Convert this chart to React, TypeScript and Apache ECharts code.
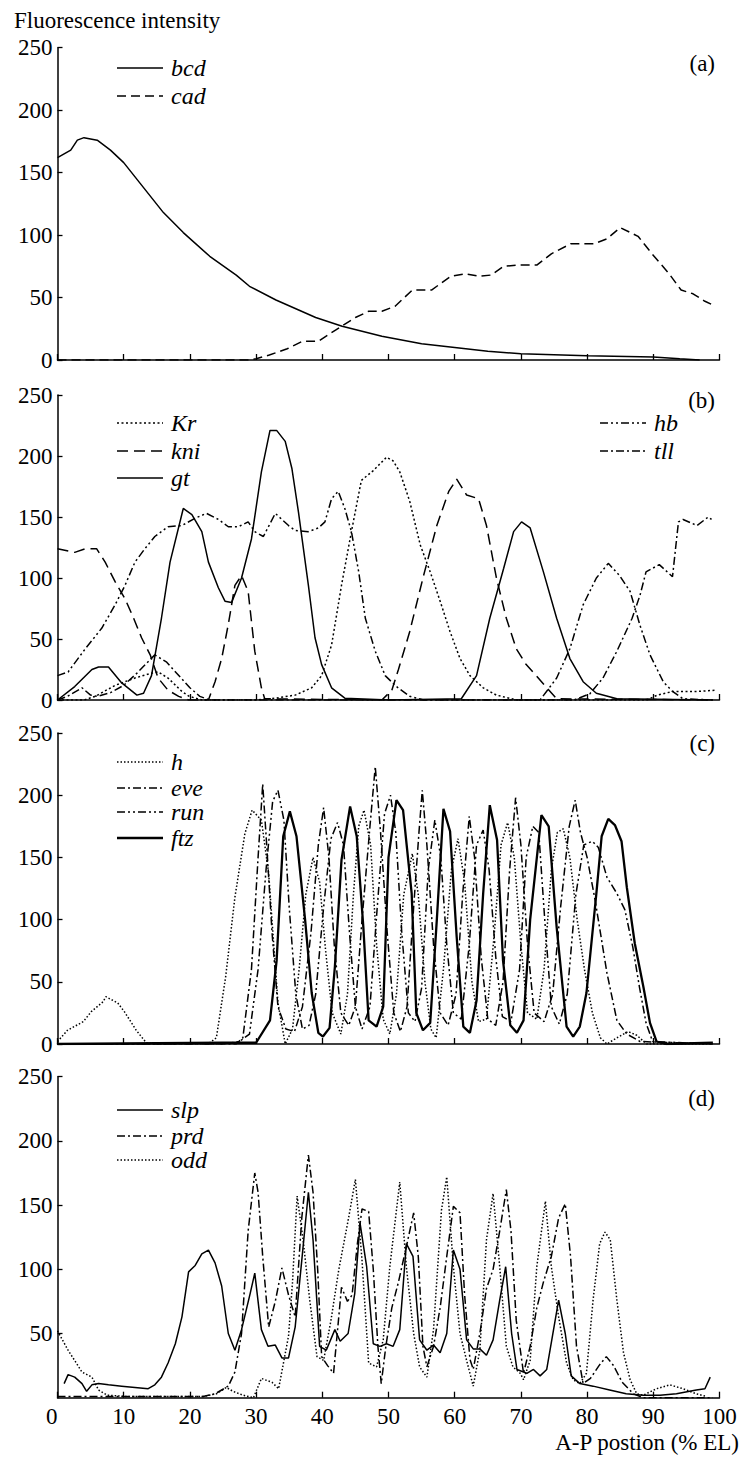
import React, { useEffect, useRef } from "react";
import * as echarts from "echarts";

const FONT = "'Liberation Serif', 'Times New Roman', serif";

// ---- tick labels ----
const xTicks = [0, 10, 20, 30, 40, 50, 60, 70, 80, 90, 100];
const yTicks = [0, 50, 100, 150, 200, 250];

// ---- panel (a) ----
const bcd = [[0,162],[1,165],[2,168],[3,176],[4,178],[6,176],[8,168],[10,158],[13,138],[16,118],[19,102],[23,83],[27,68],[29,59],[33,48],[39,34],[43,27],[49,19],[55,13],[60,10],[65,7],[70,5],[80,3.5],[90,2.5],[94,1],[97,0]];
const cad = [[0,0],[29,0],[30,1],[32,4],[34.7,9],[37,15],[39.4,15],[42,24],[45,34],[47,39],[49,39],[51,43],[53.6,56],[56.5,56],[59.4,67],[61.6,69],[63.7,67],[65.5,68],[67.4,75],[69.5,76],[72.4,76],[74.6,85],[77.5,93],[81,93],[83,97],[85,106],[87.7,99],[89.8,85],[92.4,69],[94.2,56],[96,53],[97.8,47],[99,44]];

// ---- panel (b) ----
const kr = [[0,0],[4,0],[5.7,3],[8.7,12],[11.7,18],[14.2,22],[15.2,23],[16.7,18],[18.8,7],[19.9,3],[21.8,0],[30,0],[32.9,1.5],[35.9,4],[38.4,10],[39.9,20],[41.4,45],[42.9,94],[44.4,138],[45.9,180],[47.7,188],[49.7,199],[50.7,196],[51.7,187],[53.2,163],[54.8,127],[56.3,105],[57.8,81],[59.3,56],[60.8,34],[62.3,20],[64.3,10],[66.3,4],[69.4,0],[89,0],[90.6,4],[92.9,7],[96.6,7],[99.3,8]];
const kni = [[0,124],[2.6,121],[4.2,124],[5.9,124],[7.2,113],[8.7,97],[10.2,83],[11.5,67],[12.7,51],[14,37],[15.2,18],[16.7,8],[18.3,3],[19.8,0],[22.8,0],[23.8,15],[24.8,34],[25.8,62],[26.8,94],[27.8,102],[28.8,89],[29.8,40],[30.8,10],[31.3,1],[49,0],[50.5,8],[51.5,25],[53.2,56],[55.3,102],[57.3,143],[59.1,171],[60.3,181],[61.8,168],[63.6,165],[64.8,143],[66.3,100],[67.8,67],[69.3,42],[70.8,29],[72.3,20],[73.9,10],[75.4,1],[99,0]];
const gt = [[0,0],[2.6,11],[5.2,25],[6.2,27],[7.7,27],[9.7,14],[12,4],[13,5.5],[14.2,20],[15.7,67],[17,113],[19,157],[20.3,152],[21.8,138],[22.8,113],[24.3,92],[25.3,81],[26.3,80],[27.8,100],[29.3,132],[30.8,187],[32.1,221],[33.1,221],[34.4,212],[35.4,190],[36.4,154],[37.9,94],[38.9,51],[39.9,29],[41.4,10],[43.4,1.5],[50,0],[61,1],[63.3,20],[65.3,67],[67.4,108],[68.9,138],[70.1,146],[71.4,141],[73.4,105],[75.4,67],[77.4,34],[79.4,15],[81.4,5.5],[84.5,1],[99,0]];
const hb = [[0,20],[1.6,23],[4.2,42],[6.7,59],[8.7,78],[10.2,94],[11.7,113],[13.2,124],[14.7,134],[16.7,142],[18.8,143],[20.8,149],[22.5,153],[24.3,148],[25.8,142],[27.3,142],[28.8,146],[29.8,138],[31.1,134],[32.9,153],[34.9,143],[35.9,139],[37.9,138],[39.4,141],[40.4,146],[41.4,165],[42.4,171],[43.4,157],[44.4,138],[45.5,105],[46.5,67],[48,40],[49.5,20],[51.2,11],[53.2,3],[55.3,0],[72.9,0],[75.4,18],[77.4,42],[79.4,78],[81.4,100],[83.2,112],[84.9,102],[86.5,89],[88,61],[89.5,37],[91.5,15],[92.9,7],[94.5,1],[99,0]];
const tll = [[0,0],[1.5,3],[3.7,10],[5,4],[6,3],[8,6],[10,12],[12,22],[14.7,37],[16.5,31],[18,22],[20,10],[21.5,3],[23,0],[78,0],[80.4,5],[82.4,18],[84.5,40],[86.8,67],[88,86],[88.9,105],[90.9,111],[92.9,101],[93.8,146],[94.5,148],[96.6,143],[98.3,150],[98.8,148]];

// ---- panel (c) ----
const hGene = [[0,2],[1.5,11],[3.9,18],[5.1,26],[6.9,34],[7.3,38],[9.1,33],[10.1,26],[11.9,11],[13.4,1],[15,0],[23,1],[24,5],[25.4,54],[26.8,118],[28.3,169],[29.4,188],[30.8,180],[31.9,137],[33.3,33],[34.4,0],[35.5,12],[36.5,60],[37.5,120],[38.6,150],[39.6,130],[40.5,75],[41.5,25],[42.8,8],[43.8,40],[44.7,120],[45.5,175],[46.3,188],[47.3,160],[48.2,80],[49.2,20],[50.2,8],[51.2,40],[52.3,120],[53.6,153],[54.5,120],[55.5,50],[56.4,12],[57.2,5],[58.3,60],[59.5,140],[60.5,165],[61.5,130],[62.6,50],[63.6,18],[64.8,20],[66,90],[67,160],[68,178],[69,150],[70,80],[71,25],[72.4,20],[73.5,60],[74.6,140],[75.5,170],[76.4,173],[77.4,150],[78.5,100],[79.6,60],[80.8,25],[82,5],[83,0],[84.5,5],[86.2,10],[87.5,7],[89,0],[99,0]];
const eve = [[0,0],[27,0],[28,5],[29.3,60],[30.3,150],[31,209],[31.6,160],[32.4,90],[33.3,30],[34.5,12],[35.8,10],[37,30],[38.3,90],[39.4,160],[40.2,190],[41,150],[41.8,80],[42.8,25],[44,15],[45,30],[46,100],[47.2,175],[48,223],[48.8,170],[49.8,90],[50.8,25],[51.8,10],[52.8,30],[53.8,110],[54.6,170],[55.1,204],[55.8,160],[56.8,80],[57.8,25],[59,15],[60.2,40],[61.2,120],[62.2,183],[63,150],[64,70],[65,20],[66.2,15],[67.3,50],[68.3,140],[69.2,198],[70,160],[71,80],[72,25],[73.5,18],[74.8,40],[76,110],[77.3,175],[78.2,196],[79,170],[80,150],[81.2,116],[83,57],[84.5,19],[86,8],[88,2],[99,0]];
const run = [[0,0],[25,0],[27.5,2],[29,8],[30.3,60],[31.5,140],[32.5,195],[33.3,204],[34.2,180],[35,110],[36,40],[37,12],[38,15],[39,40],[40.2,110],[41.3,165],[42.3,178],[43.2,160],[44.1,90],[45,30],[46,12],[47.2,30],[48.3,110],[49.4,185],[50.3,200],[51.1,170],[52,90],[53,25],[54,18],[55,45],[56,140],[57,180],[57.9,150],[58.8,80],[59.8,25],[61,20],[62.2,80],[63.3,160],[64.3,172],[65.2,140],[66.2,70],[67.2,22],[68.5,18],[69.8,60],[70.8,150],[71.8,175],[72.7,170],[73.6,100],[74.6,30],[75.8,16],[77,40],[78.3,120],[79.5,160],[80.8,163],[81.7,158],[83,134],[84.5,121],[85.7,108],[86.9,78],[87.9,46],[88.9,17],[89.9,2],[99,0]];
const ftz = [[0,0],[25,1],[30,1],[32.1,19],[33.1,67],[34.1,167],[35.1,187],[36.1,167],[37.4,100],[38.4,41],[39.4,9],[40.1,6],[41.1,13],[41.9,62],[42.9,148],[44.2,191],[45.2,167],[46.2,94],[47,19],[48.2,14],[49.2,30],[50,150],[51.2,196],[52.2,188],[53.5,121],[54.2,25],[55.2,11],[56.3,17],[57.3,100],[58.3,189],[59.3,171],[60.3,86],[61.3,14],[62.3,9],[63.3,35],[64.3,121],[65.3,192],[66.4,164],[67.3,67],[68.4,15],[69.4,9],[70.4,19],[71.4,100],[73.1,184],[74.2,175],[75.4,94],[76.9,14],[77.9,6],[78.9,14],[79.9,41],[81.4,121],[82.2,167],[83.2,181],[84.2,176],[85.2,163],[86,126],[87.2,81],[88.5,46],[89.5,17],[90.5,2],[91.9,0],[99,1]];

// ---- panel (d) ----
const slp = [[1,11],[1.6,18],[2.6,16],[3.7,11],[4.4,5],[5.2,10],[6.2,11],[7.7,10],[9.7,9],[11.7,8],[13.7,7],[14.7,10],[15.7,16],[16.7,27],[17.8,42],[18.8,63],[19.8,98],[20.8,103],[21.8,112],[22.8,115],[23.8,105],[24.8,87],[25.8,50],[26.8,37],[27.8,53],[29.1,81],[29.8,97],[30.8,53],[31.8,40],[32.9,41],[33.9,31],[34.9,31],[35.9,55],[36.9,107],[37.9,160],[38.6,123],[39.6,40],[40.6,37],[41.9,53],[42.7,44],[43.9,50],[44.9,81],[45.7,136],[46.7,102],[47.7,42],[48.7,40],[49.7,42],[50.7,40],[51.7,53],[52.7,120],[53.7,110],[54.7,45],[55.8,37],[56.8,41],[57.8,35],[58.8,50],[59.8,115],[60.8,100],[61.8,45],[62.8,38],[63.8,38],[64.8,33],[65.8,45],[66.8,76],[67.7,102],[68.6,50],[69.4,22],[70.9,19],[71.9,22],[72.9,17],[73.9,22],[75.7,76],[76.7,50],[77.6,17],[78.9,11],[80.9,9],[83.4,6],[85.9,3],[88.5,2],[91,2],[93.5,3],[96.5,6],[97.8,7],[98.6,16]];
const prd = [[0,1],[22,1],[23.8,3],[25.8,9],[26.8,20],[27.8,50],[28.8,130],[29.8,175],[30.3,160],[31,110],[31.9,55],[32.9,75],[33.9,101],[34.9,80],[35.9,63],[36.9,140],[37.9,189],[38.6,160],[39.3,100],[39.9,32],[40.8,25],[41.7,19],[42.9,86],[43.8,75],[44.5,80],[45.3,120],[46,147],[47,145],[47.7,100],[48.4,40],[48.9,11],[49.6,40],[50.5,70],[51.5,90],[52.8,120],[53.8,144],[54.5,110],[55.2,40],[55.8,24],[56.8,40],[57.8,70],[58.8,110],[59.8,149],[60.8,144],[61.5,80],[62.3,30],[62.8,22],[63.8,50],[64.8,85],[65.8,100],[66.8,130],[67.8,162],[68.5,130],[69.3,60],[70.4,19],[71.4,40],[72.4,70],[73.4,90],[74.6,110],[75.7,140],[76.7,151],[77.5,110],[78.4,40],[79.4,11],[80.5,15],[81.8,25],[82.9,32],[84,25],[85.3,12],[87,3],[88.5,0],[99,0]];
const odd = [[0,52],[1.6,37],[3.7,20],[5.2,16],[6.2,6],[7.5,2],[10,1],[22,1],[24,3],[25.5,8],[26.5,5],[28,2],[29.6,0],[30.8,15],[32.4,12],[33.4,7],[34.9,48],[35.5,90],[36.2,157],[37.1,123],[38.1,76],[39.2,32],[40.2,29],[41.3,60],[42.5,100],[43.9,138],[45,170],[46,107],[47,27],[48.2,24],[49.2,45],[50.2,102],[51.7,168],[52.7,102],[53.8,50],[54.7,24],[55.8,16],[56.8,53],[58,146],[58.8,172],[59.8,102],[60.8,50],[61.8,29],[62.8,9],[63.8,37],[64.8,123],[65.8,159],[66.8,102],[67.8,40],[68.8,24],[69.9,19],[70.4,14],[71.4,29],[72.4,102],[73.7,153],[74.6,102],[75.7,63],[76.9,27],[77.9,14],[78.9,11],[79.9,19],[80.9,76],[81.9,120],[82.7,129],[83.5,123],[84.5,76],[85.5,35],[86.5,14],[87.5,3],[88.5,2],[90.5,7],[92.5,10],[94.5,7],[96.5,3],[98,1]];

// ---- styles ----
const SOLID: any = "solid";
const DASHED = [9, 5];
const KNI_DASH = [11, 6];
const DOTTED = [2, 2.5];
const FINE_DOT = [1.5, 2];
const DASH_DOT = [8, 3, 2, 3];
const DASH_DOT_DOT = [8, 3, 2, 3, 2, 3];

const GRID_LEFT = 57.5;
const GRID_W = 662;
const PANELS = [
  { top: 47.7, h: 312.3 },
  { top: 395, h: 305 },
  { top: 733, h: 311 },
  { top: 1076.7, h: 321 },
];

type Def = { name: string; data: number[][]; panel: number; dash: any; width?: number };

const seriesDefs: Def[] = [
  { name: "bcd", data: bcd, panel: 0, dash: SOLID },
  { name: "cad", data: cad, panel: 0, dash: DASHED },
  { name: "Kr", data: kr, panel: 1, dash: DOTTED },
  { name: "kni", data: kni, panel: 1, dash: KNI_DASH },
  { name: "gt", data: gt, panel: 1, dash: SOLID },
  { name: "hb", data: hb, panel: 1, dash: DASH_DOT_DOT },
  { name: "tll", data: tll, panel: 1, dash: DASH_DOT },
  { name: "h", data: hGene, panel: 2, dash: FINE_DOT },
  { name: "eve", data: eve, panel: 2, dash: DASH_DOT },
  { name: "run", data: run, panel: 2, dash: DASH_DOT_DOT },
  { name: "ftz", data: ftz, panel: 2, dash: SOLID, width: 2.3 },
  { name: "slp", data: slp, panel: 3, dash: SOLID },
  { name: "prd", data: prd, panel: 3, dash: DASH_DOT },
  { name: "odd", data: odd, panel: 3, dash: FINE_DOT },
];

// legend layout: [name, x of line start, y centre]
const legendLayout: [string, number, number][] = [
  ["bcd", 117, 68],
  ["cad", 117, 96],
  ["Kr", 117, 423],
  ["kni", 117, 451],
  ["gt", 117, 478],
  ["hb", 600, 423],
  ["tll", 600, 451],
  ["h", 117, 762],
  ["eve", 117, 788],
  ["run", 117, 812],
  ["ftz", 117, 838],
  ["slp", 117, 1110],
  ["prd", 117, 1136],
  ["odd", 117, 1160],
];

const panelLabels: [string, number][] = [
  ["(a)", 63],
  ["(b)", 400],
  ["(c)", 743],
  ["(d)", 1098],
];

export default function App() {
  const ref = useRef<HTMLDivElement>(null);
  useEffect(() => {
    document.body.style.margin = "0";
    const chart = echarts.init(ref.current!, null, { renderer: "svg" });

    const grid = PANELS.map((p) => ({ left: GRID_LEFT, top: p.top, width: GRID_W, height: p.h }));
    const xAxis = PANELS.map((_, i) => ({
      type: "value",
      gridIndex: i,
      min: xTicks[0],
      max: xTicks[xTicks.length - 1],
      interval: 10,
      splitLine: { show: false },
      axisLine: { show: true, onZero: false, lineStyle: { color: "#000", width: 1.5 } },
      axisTick: { show: true, inside: true, length: 6, lineStyle: { color: "#000", width: 1.3 } },
      axisLabel: {
        show: i === 3,
        color: "#000",
        fontFamily: FONT,
        fontSize: 23,
        margin: 7,
        alignMinLabel: "right",
        formatter: (v: number) => (xTicks.includes(v) ? String(v) : ""),
      },
    }));
    const yAxis = PANELS.map((_, i) => ({
      type: "value",
      gridIndex: i,
      min: yTicks[0],
      max: yTicks[yTicks.length - 1],
      interval: 50,
      splitLine: { show: false },
      axisLine: { show: true, onZero: false, lineStyle: { color: "#000", width: 1.5 } },
      axisTick: { show: true, inside: true, length: 5, lineStyle: { color: "#000", width: 1.3 } },
      axisLabel: {
        show: true,
        showMinLabel: i !== 3,
        color: "#000",
        fontFamily: FONT,
        fontSize: 23,
        margin: 5,
      },
    }));

    const series = seriesDefs.map((d) => ({
      name: d.name,
      type: "line",
      xAxisIndex: d.panel,
      yAxisIndex: d.panel,
      data: d.data,
      symbol: "none",
      silent: true,
      clip: true,
      lineStyle: { color: "#000", width: d.width ?? 1.5, type: d.dash },
    }));

    const textStyle = (text: string, size: number, italic: boolean, align: string) => ({
      text,
      fontFamily: FONT,
      fontSize: size,
      fontStyle: italic ? "italic" : "normal",
      fill: "#000",
      align,
      verticalAlign: "middle",
    });

    const graphics: any[] = [];
    legendLayout.forEach(([name, x, y]) => {
      const def = seriesDefs.find((s) => s.name === name)!;
      graphics.push({
        type: "line",
        silent: true,
        shape: { x1: x, y1: y, x2: x + 46, y2: y },
        style: {
          stroke: "#000",
          lineWidth: def.width ?? 1.5,
          lineDash: def.dash === SOLID ? null : def.dash,
        },
      });
      graphics.push({
        type: "text",
        silent: true,
        x: x + 54,
        y: y,
        style: textStyle(name, 24, true, "left"),
      });
    });
    panelLabels.forEach(([t, y]) => {
      graphics.push({
        type: "text",
        silent: true,
        x: 715,
        y: y,
        style: textStyle(t, 23, false, "right"),
      });
    });
    graphics.push({
      type: "text",
      silent: true,
      x: 14,
      y: 20,
      style: textStyle("Fluorescence intensity", 23, false, "left"),
    });
    graphics.push({
      type: "text",
      silent: true,
      x: 739,
      y: 1442,
      style: textStyle("A-P postion (% EL)", 23, false, "right"),
    });

    chart.setOption({
      animation: false,
      backgroundColor: "#fff",
      grid,
      xAxis,
      yAxis,
      series,
      graphic: graphics,
    });
    return () => chart.dispose();
  }, []);
  return <div ref={ref} style={{ width: 749, height: 1465 }} />;
}
